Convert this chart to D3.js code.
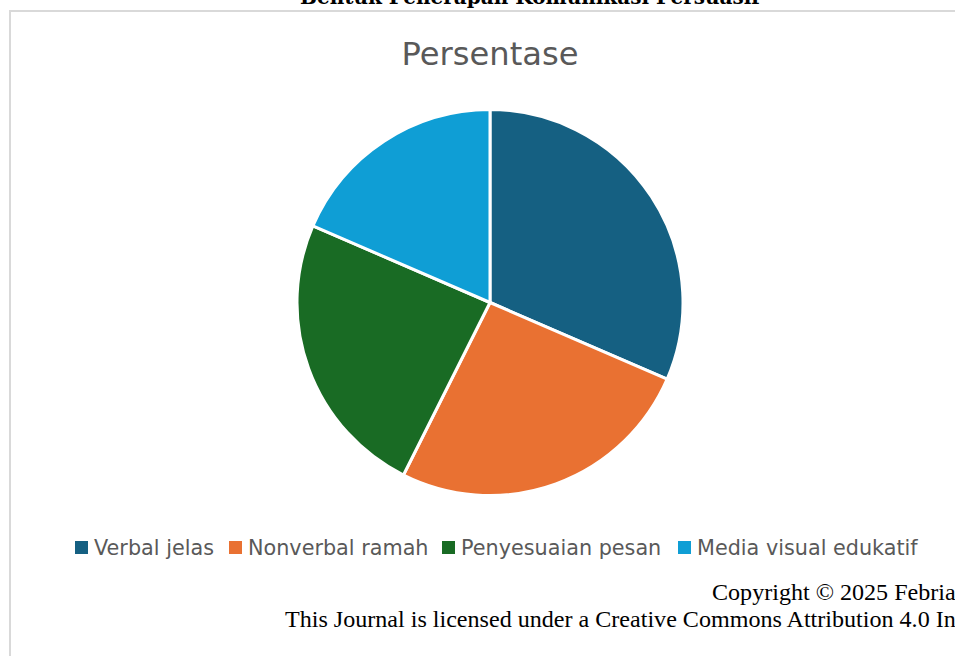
<!DOCTYPE html>
<html><head><meta charset="utf-8">
<script src="https://cdn.jsdelivr.net/npm/d3@7"></script>
<style>html,body{margin:0;padding:0;background:#fff;overflow:hidden}</style>
</head><body>
<svg id="c" width="955" height="656"></svg>
<script>
const categories = ["Verbal jelas", "Nonverbal ramah", "Penyesuaian pesan", "Media visual edukatif"];
const values = [31.5, 25.9, 24.1, 18.5];
const colors = ["#156082", "#E97132", "#196B24", "#0F9ED5"];
const chartTitle = "Persentase";
const pageTitle = "Bentuk Penerapan Komunikasi Persuasif";
const footer1 = "Copyright \u00A9 2025 Febria";
const footer2 = "This Journal is licensed under a Creative Commons Attribution 4.0 International License.";

const svg = d3.select("#c");

// scale a text's font so that its width equals target
function fit(sel, target, base) {
  const w = sel.node().getComputedTextLength();
  const fs = base * target / w;
  sel.attr("font-size", fs);
  return fs;
}

// page title (cut off at top, as in the reference)
const pt = svg.append("text").attr("x", 530).attr("y", 4).attr("text-anchor", "middle")
  .attr("font-family", "DejaVu Serif").attr("font-weight", "bold").attr("font-size", 20)
  .attr("fill", "#000").text(pageTitle);
fit(pt, 460, 20);
// frame
svg.append("rect").attr("x", 10).attr("y", 11).attr("width", 1000).attr("height", 700)
  .attr("fill", "none").attr("stroke", "#d9d9d9").attr("stroke-width", 2);

const tt = svg.append("text").attr("x", 490).attr("y", 65).attr("text-anchor", "middle")
  .attr("font-family", "DejaVu Sans").attr("font-size", 32).attr("fill", "#595959").text(chartTitle);
fit(tt, 177, 32);

const cx = 490, cy = 302.5, r = 193;
const pie = d3.pie().sort(null).value(d => d)(values);
const arc = d3.arc().innerRadius(0).outerRadius(r);
const g = svg.append("g").attr("transform", `translate(${cx},${cy})`);
g.selectAll("path").data(pie).join("path")
  .attr("d", arc).attr("fill", (d, i) => colors[i])
  .attr("stroke", "#fff").attr("stroke-width", 3).attr("stroke-linejoin", "round");

const legendX = [75, 229, 442, 678];
const lg = svg.append("g");
let legendFs = null;
categories.forEach((c, i) => {
  lg.append("rect").attr("x", legendX[i]).attr("y", 541).attr("width", 13).attr("height", 13).attr("fill", colors[i]);
  const t = lg.append("text").attr("x", legendX[i] + 19).attr("y", 555)
    .attr("font-family", "DejaVu Sans").attr("font-size", 20).attr("fill", "#595959").text(c);
  if (i === 0) legendFs = fit(t, 120, 20); else t.attr("font-size", legendFs);
});

// footer
const probe = svg.append("text").attr("font-family", "Liberation Serif").attr("font-size", 20)
  .text("This Journal is licensed under a Creative Commons Attribution 4.0");
const ffs = 20 * 645 / probe.node().getComputedTextLength();
probe.remove();
svg.append("text").attr("x", 712).attr("y", 600).attr("font-family", "Liberation Serif")
  .attr("font-size", ffs).attr("fill", "#000").text(footer1);
svg.append("text").attr("x", 285).attr("y", 627).attr("font-family", "Liberation Serif")
  .attr("font-size", ffs).attr("fill", "#000").text(footer2);
</script>
</body></html>
